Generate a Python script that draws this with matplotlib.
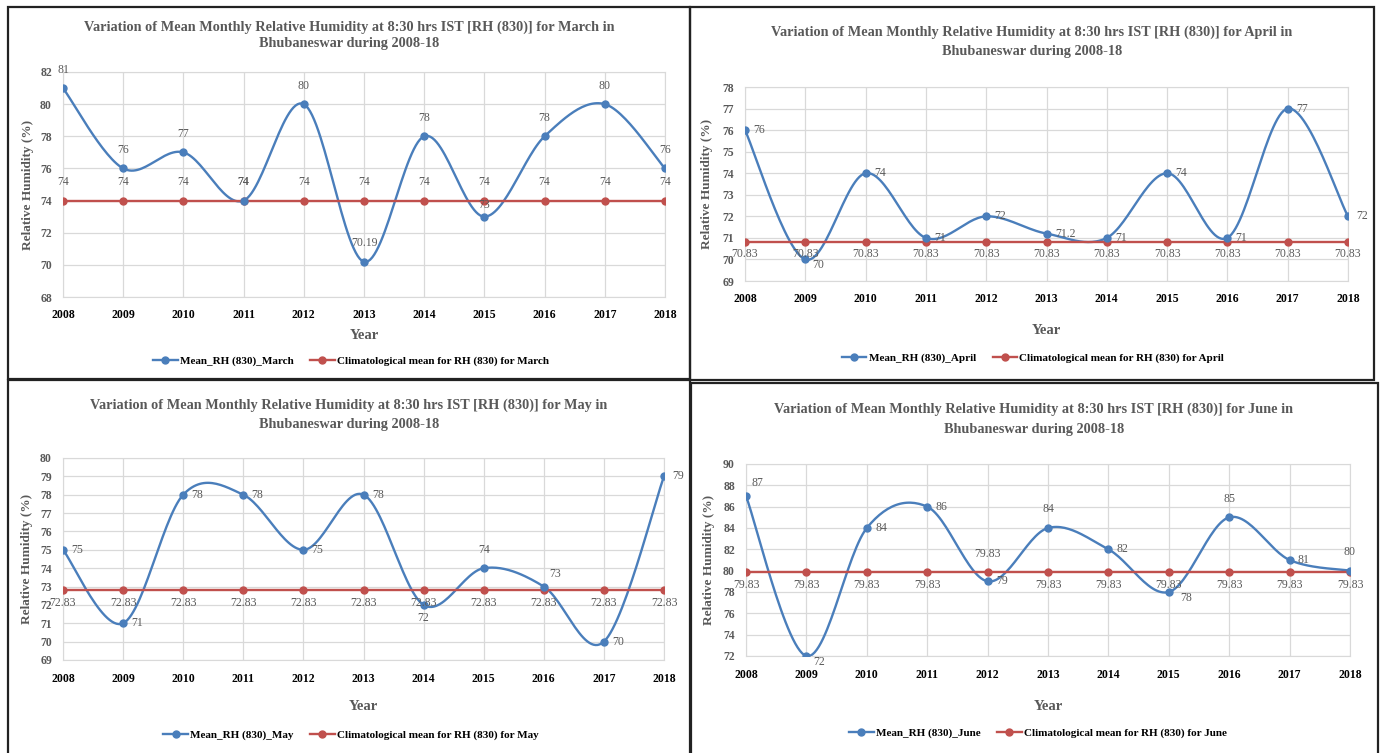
import numpy as np
import matplotlib
matplotlib.use("Agg")
import matplotlib.pyplot as plt
from matplotlib.lines import Line2D
from matplotlib.patches import Rectangle

plt.rcParams['font.family'] = ['Liberation Serif', 'DejaVu Serif']

years = [2008, 2009, 2010, 2011, 2012, 2013, 2014, 2015, 2016, 2017, 2018]

rh_march = [81, 76, 77, 74, 80, 70.19, 78, 73, 78, 80, 76]
rh_april = [76, 70, 74, 71, 72, 71.2, 71, 74, 71, 77, 72]
rh_may = [75, 71, 78, 78, 75, 78, 72, 74, 73, 70, 79]
rh_june = [87, 72, 84, 86, 79, 84, 82, 78, 85, 81, 80]

clim_march = 74
clim_april = 70.83
clim_may = 72.83
clim_june = 79.83

months = ["March", "April", "May", "June"]

BLUE = "#4a7ebb"
RED = "#c0504d"
GREY = "#595959"
W, H = 1382, 753

# label offsets in points
OFF = {'a': (0, 9, 'center', 'bottom'), 'a2': (0, 4, 'center', 'bottom'),
       'b': (0, -5, 'center', 'top'),
       'r': (6, 0, 'left', 'center'), 'ur': (4, 5, 'left', 'bottom'),
       'br': (5, -4, 'left', 'center'), 'br2': (8, -4, 'left', 'center')}


def smooth(x, y, n=30):
    # Excel style smoothed line (Catmull-Rom)
    x = np.asarray(x, float)
    y = np.asarray(y, float)
    px = np.concatenate([[x[0]], x, [x[-1]]])
    py = np.concatenate([[y[0]], y, [y[-1]]])
    xs, ys = [], []
    t = np.linspace(0, 1, n)
    for i in range(1, len(px) - 2):
        p0, p1, p2, p3 = [np.array([px[j], py[j]]) for j in range(i - 1, i + 3)]
        c1 = p1 + (p2 - p0) / 6
        c2 = p2 - (p3 - p1) / 6
        b = ((1 - t) ** 3)[:, None] * p1 + (3 * (1 - t) ** 2 * t)[:, None] * c1 \
            + (3 * (1 - t) * t ** 2)[:, None] * c2 + (t ** 3)[:, None] * p2
        xs.extend(b[:, 0])
        ys.extend(b[:, 1])
    return xs, ys


def fx(px):
    return px / W


def fy(py):
    return 1 - py / H


def panel(fig, box, plot, vals, clim, month, ylim, ystep, blue_pos, red_pos,
          title_y, ylab_x, year_y, leg_c, border):
    x0, x1, ytop, ybot = plot
    ax = fig.add_axes([fx(x0), fy(ybot), fx(x1) - fx(x0), fy(ytop) - fy(ybot)])
    bx0, by0, bx1, by1 = border
    fig.patches.append(Rectangle((fx(bx0), fy(by1)), fx(bx1) - fx(bx0), fy(by0) - fy(by1),
                                 transform=fig.transFigure, fill=False,
                                 edgecolor="#222222", linewidth=1.6))

    sx, sy = smooth(years, vals)
    ax.plot(sx, sy, color=BLUE, lw=1.7, zorder=3)
    ax.plot(years, vals, 'o', color=BLUE, ms=5, zorder=4)
    cl = [clim] * len(years)
    ax.plot(years, cl, '-o', color=RED, lw=1.7, ms=5, zorder=3)

    for i, (x, v) in enumerate(zip(years, vals)):
        dx, dy, ha, va = OFF[blue_pos[i]]
        ax.annotate(f"{v:g}", (x, v), xytext=(dx, dy), textcoords='offset points',
                    ha=ha, va=va, fontsize=8.5, color=GREY, zorder=5)
        dx, dy, ha, va = OFF[red_pos[i]]
        ax.annotate(f"{clim:g}", (x, clim), xytext=(dx, dy), textcoords='offset points',
                    ha=ha, va=va, fontsize=8.5, color=GREY, zorder=5)

    ax.set_xlim(years[0], years[-1])
    ax.set_ylim(*ylim)
    ax.set_xticks(years)
    ax.set_xticklabels([str(y) for y in years], fontweight='bold', fontsize=8.5)
    ax.set_yticks(np.arange(ylim[0], ylim[1] + 0.01, ystep))
    ax.tick_params(axis='y', labelsize=8.5, labelcolor=GREY, length=0, pad=8)
    ax.tick_params(axis='x', length=0, pad=9)
    for lab in ax.get_yticklabels():
        lab.set_fontweight('bold')
    ax.grid(True, color="#d9d9d9", lw=0.9)
    ax.set_axisbelow(True)
    for s in ax.spines.values():
        s.set_color("#d9d9d9")

    cx = (box[0] + box[1]) / 2
    fig.text(fx(cx), fy(title_y[0]),
             f"Variation of Mean Monthly Relative Humidity at 8:30 hrs IST [RH (830)] for {month} in",
             ha='center', va='center', fontsize=10.3, fontweight='bold', color=GREY)
    fig.text(fx(cx), fy(title_y[1]), "Bhubaneswar during 2008-18",
             ha='center', va='center', fontsize=10.3, fontweight='bold', color=GREY)
    fig.text(fx(ylab_x), fy((ytop + ybot) / 2), "Relative Humidity (%)", rotation=90,
             ha='center', va='center', fontsize=9.5, fontweight='bold', color=GREY)
    fig.text(fx((x0 + x1) / 2), fy(year_y), "Year", ha='center', va='center',
             fontsize=10.5, fontweight='bold', color=GREY)

    handles = [Line2D([], [], color=BLUE, lw=1.7, marker='o', ms=5),
               Line2D([], [], color=RED, lw=1.7, marker='o', ms=5)]
    fig.legend(handles, [f"Mean_RH (830)_{month}", f"Climatological mean for RH (830) for {month}"],
               loc='center', bbox_to_anchor=(fx(leg_c[0]), fy(leg_c[1])), ncol=2,
               frameon=False, handlelength=2.2, handletextpad=0.2,
               columnspacing=1.5, prop={'weight': 'bold', 'size': 8})
    return ax


fig = plt.figure(figsize=(W / 100, H / 100), dpi=100)

panel(fig, (8, 690), (63, 665, 72, 297), rh_march, clim_march, months[0], (68, 82), 2,
      ['a', 'a', 'a', 'a', 'a', 'a', 'a', 'a2', 'a', 'a', 'a'], ['a'] * 11,
      (27, 44), 28, 335, (351, 361), (8, 7, 690, 379))

panel(fig, (690, 1374), (745, 1348, 87, 281), rh_april, clim_april, months[1], (69, 78), 1,
      ['r', 'br', 'r', 'r', 'r', 'r', 'r', 'r', 'r', 'r', 'r'], ['b'] * 11,
      (32, 51), 707, 330, (1033, 358), (690, 7, 1374, 380))

panel(fig, (8, 690), (63, 664, 458, 660), rh_may, clim_may, months[2], (69, 80), 1,
      ['r', 'r', 'r', 'r', 'r', 'r', 'b', 'a', 'ur', 'r', 'r'], ['b'] * 11,
      (405, 424), 27, 707, (351, 735), (8, 380, 690, 760))

panel(fig, (690, 1378), (746, 1350, 464, 656), rh_june, clim_june, months[3], (72, 90), 2,
      ['ur', 'br', 'r', 'r', 'r', 'a', 'r', 'br2', 'a', 'r', 'a'],
      ['b', 'b', 'b', 'b', 'a', 'b', 'b', 'b', 'b', 'b', 'b'],
      (409, 429), 709, 706, (1038, 733), (691, 383, 1378, 760))

fig.savefig("out.png", dpi=100)
